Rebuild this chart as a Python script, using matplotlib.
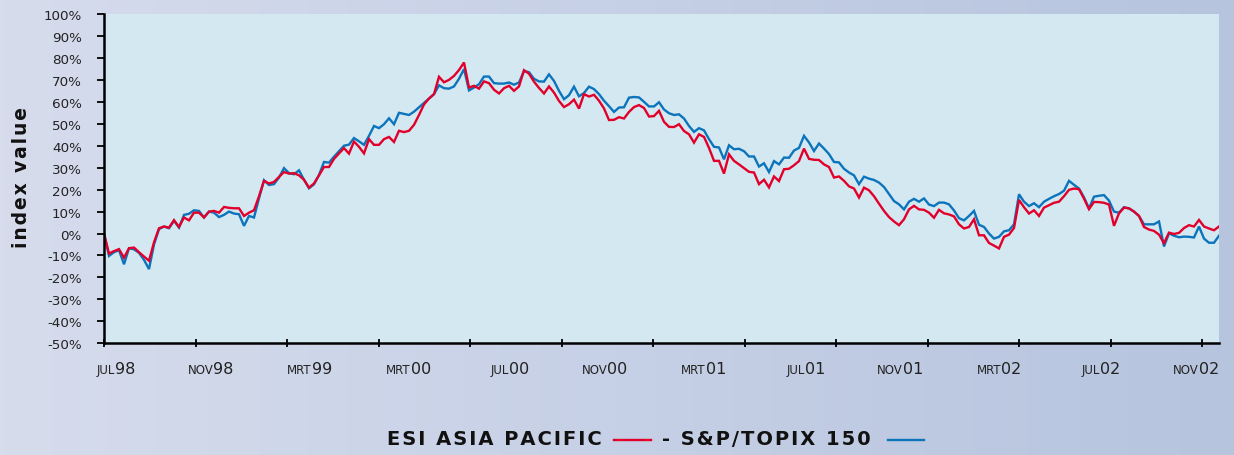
import numpy as np
import matplotlib
matplotlib.use("Agg")
import matplotlib.pyplot as plt
from matplotlib.lines import Line2D
from matplotlib.colors import LinearSegmentedColormap
from matplotlib.transforms import blended_transform_factory

# index waarden in % (jul 1998 - dec 2002)
esi_asia_pacific = [
    0, -9.1, -8, -7.1, -11, -6.7, -6.4, -8.5, -10.5, -12.4,
    -4, 2.4, 3.2, 2.7, 6.1, 3.0, 7.3, 6.0, 9.5, 9.5,
    7.3, 10, 10.3, 9.5, 12.1, 11.7, 11.5, 11.5, 8, 9.5,
    10.6, 17, 24, 22.8, 23.5, 25.8, 28, 27.3, 27.5, 26.5,
    24.5, 20.9, 22.8, 26.5, 30.3, 30.3, 34, 36.5, 38.9, 36.4,
    41.9, 39.5, 36.5, 43, 40.4, 40.4, 43, 44, 41.7, 46.8,
    46.2, 46.8, 49.5, 54, 58.8, 61.5, 63.5, 71.4, 68.9, 70,
    71.8, 74.5, 77.9, 66.5, 67.3, 66, 69.3, 68.5, 65.5, 63.8,
    66.2, 67.3, 65, 67, 74.4, 72.8, 69.2, 66.3, 63.8, 67,
    64.2, 60.4, 57.6, 58.9, 61, 56.9, 63.5, 62.4, 63.2, 60.5,
    57, 51.7, 51.8, 53, 52.4, 55.4, 57.6, 58.5, 57.2, 53.3,
    53.5, 55.9, 50.9, 48.6, 48.5, 49.8, 46.7, 45.2, 41.4, 45.2,
    44, 39, 33.1, 33.1, 27.3, 36.1, 33.1, 31.5, 29.8, 28.1,
    27.8, 22.5, 24.5, 21, 26, 23.9, 29.3, 29.5, 31.1, 33,
    38.7, 34, 33.6, 33.5, 31.5, 30.3, 25.5, 26, 24, 21.5,
    20.5, 16.4, 20.9, 19.7, 17, 13.6, 10.3, 7.5, 5.5, 3.8,
    6.5, 11, 12.6, 11, 10.8, 9.5, 7.2, 10.8, 9.2, 8.7,
    7.8, 4.2, 2.3, 3, 6.5, -0.8, -0.8, -4.3, -5.5, -6.8,
    -1.5, -0.5, 2.5, 15.3, 12, 9.1, 10.6, 8, 11.8, 12.9,
    14, 14.5, 17, 19.9, 20.5, 20.2, 15.9, 11.1, 14.4, 14.3,
    14, 13.2, 3.5, 9.2, 11.8, 11.5, 10, 8, 3, 1.8,
    1.2, -0.5, -4.4, 0.4, -0.2, 0.3, 2.5, 3.8, 3.2, 6.2,
    3.2, 2.3, 1.5, 3.2,
]

sp_topix_150 = [
    0, -10.2, -8.5, -7.6, -14, -6.7, -7.2, -8.8, -12, -16.2,
    -5, 2, 3.2, 2.4, 5.8, 2.7, 8.5, 9.0, 10.6, 10.3,
    7.3, 10, 9.5, 7.5, 8.5, 10, 9.1, 8.8, 3.5, 8,
    7.3, 16, 24.3, 22.1, 22.5, 25.5, 29.8, 27.5, 27, 28.8,
    24.5, 20.6, 22.4, 26.7, 32.6, 32.3, 35, 37.5, 40, 40.5,
    43.5, 42, 40.4, 44.5, 49, 48, 49.8, 52.5, 49.8, 55,
    54.5, 54, 55.5, 57.5, 59.5, 61.5, 63.5, 67.5, 66.2, 66,
    67, 70.5, 74.9, 65.2, 66.5, 68, 71.5, 71.5, 68.5, 68.3,
    68.3, 68.8, 67.8, 68.8, 74, 73.5, 70.5, 69.3, 69.2, 72.5,
    69.5, 65, 61.2, 63, 66.9, 62.5, 64, 66.9, 65.8, 63.5,
    60.5, 58, 55.4, 57.4, 57.5, 61.9, 62.2, 62, 60, 57.9,
    57.9, 59.8, 56.5, 54.8, 54, 54.3, 52.4, 49, 46.3, 48,
    47, 43, 39.5, 39.2, 33.8, 40.2, 38.4, 38.6, 37.5, 35.1,
    35.1, 30.5, 32, 28, 33, 31.5, 34.6, 34.5, 37.8, 39,
    44.5, 41.5, 37.6, 41, 38.7, 36.2, 32.6, 32.4, 29.5, 27.8,
    26.5, 22.5, 25.9, 25, 24.4, 23.2, 21.2, 18, 14.8, 13.3,
    11, 14.5, 15.8, 14.5, 16, 13.2, 12.5, 14.1, 14.1, 13.3,
    10.5, 7, 6, 8, 10.3, 4, 3, 0, -2.3, -1.5,
    1, 1.5, 4.2, 17.9, 14.5, 12.5, 13.8, 12, 14.5, 15.8,
    17, 18, 19.5, 24, 22.2, 20.5, 16.5, 11.4, 16.8, 17.2,
    17.5, 15, 10, 9.5, 12, 11.4, 10, 8, 4.2, 4.2,
    4.2, 5.5, -5.9, 0.1, -1, -1.7, -1.4, -1.5, -1.8, 3.2,
    -2.3, -4.2, -4.2, -1,
]

maand_labels = ["JUL98", "NOV98", "MRT99", "MRT00", "JUL00", "NOV00",
                "MRT01", "JUL01", "NOV01", "MRT02", "JUL02", "NOV02"]


def spatie(tekst, sp="\u200a"):
    # letters iets uit elkaar zetten
    return sp.join(tekst)


W, H = 1234, 456
fig = plt.figure(figsize=(W / 100, H / 100), dpi=100)

# achtergrond met kleurverloop
bg = fig.add_axes([0, 0, 1, 1], zorder=-10)
cmap = LinearSegmentedColormap.from_list("bg", ["#d6dcec", "#c6d0e6", "#b6c4de"])
bg.imshow(np.linspace(0, 1, 256).reshape(1, -1), aspect="auto", cmap=cmap,
          extent=[0, 1, 0, 1])
bg.axis("off")

ax = fig.add_axes([104 / W, (H - 344.3) / H, 1115 / W, 329.3 / H])
ax.set_facecolor("#d4e8f2")

x = np.arange(len(esi_asia_pacific))
ax.plot(x, sp_topix_150, color="#0b74bb", lw=1.7, solid_joinstyle="miter")
ax.plot(x, esi_asia_pacific, color="#e2002b", lw=1.7, solid_joinstyle="miter")

n = len(x) - 1
ax.set_xlim(0, n)
ax.set_ylim(-50, 100)

yt = list(range(-50, 101, 10))
ax.set_yticks(yt)
ax.set_yticklabels([f"{v}%" for v in yt], fontsize=9.7, color="#222222")
ax.tick_params(axis="y", direction="out", length=5, width=1.3, pad=11)

px_per_pt = 1115 / n
ax.set_xticks(np.arange(13) * 91.5 / px_per_pt)
ax.set_xticklabels([])
ax.tick_params(axis="x", direction="inout", length=6, width=1.3)

for s in ["top", "right"]:
    ax.spines[s].set_visible(False)
for s in ["left", "bottom"]:
    ax.spines[s].set_linewidth(1.8)
    ax.spines[s].set_color("black")

# x labels: letters klein, cijfers groot
tr = blended_transform_factory(ax.transData, fig.transFigure)
y_lab = 1 - 374 / H
for k, lab in enumerate(maand_labels):
    xc = (11 + 98.5 * k) / px_per_pt
    ax.text(xc, y_lab, lab[:3], transform=tr, ha="right", va="baseline",
            fontsize=8.5, color="#222222")
    ax.text(xc, y_lab, lab[3:], transform=tr, ha="left", va="baseline",
            fontsize=11.5, color="#222222")

fig.text(22 / W, 1 - 178 / H, spatie("index value"), rotation=90,
         ha="center", va="center", fontsize=13.5, fontweight="bold",
         color="#111111")

# legenda onderaan
y_leg = 1 - 440 / H
fig.text(387 / W, y_leg, spatie("ESI ASIA PACIFIC"), ha="left", va="center",
         fontsize=14, fontweight="bold", color="#111111")
fig.add_artist(Line2D([614 / W, 651 / W], [1 - 441 / H] * 2, color="#e2002b", lw=1.7))
fig.text(662 / W, y_leg, spatie("- S&P/TOPIX 150"), ha="left", va="center",
         fontsize=14, fontweight="bold", color="#111111")
fig.add_artist(Line2D([888 / W, 924 / W], [1 - 441 / H] * 2, color="#0b74bb", lw=1.7))

fig.savefig("out.png", dpi=100)
